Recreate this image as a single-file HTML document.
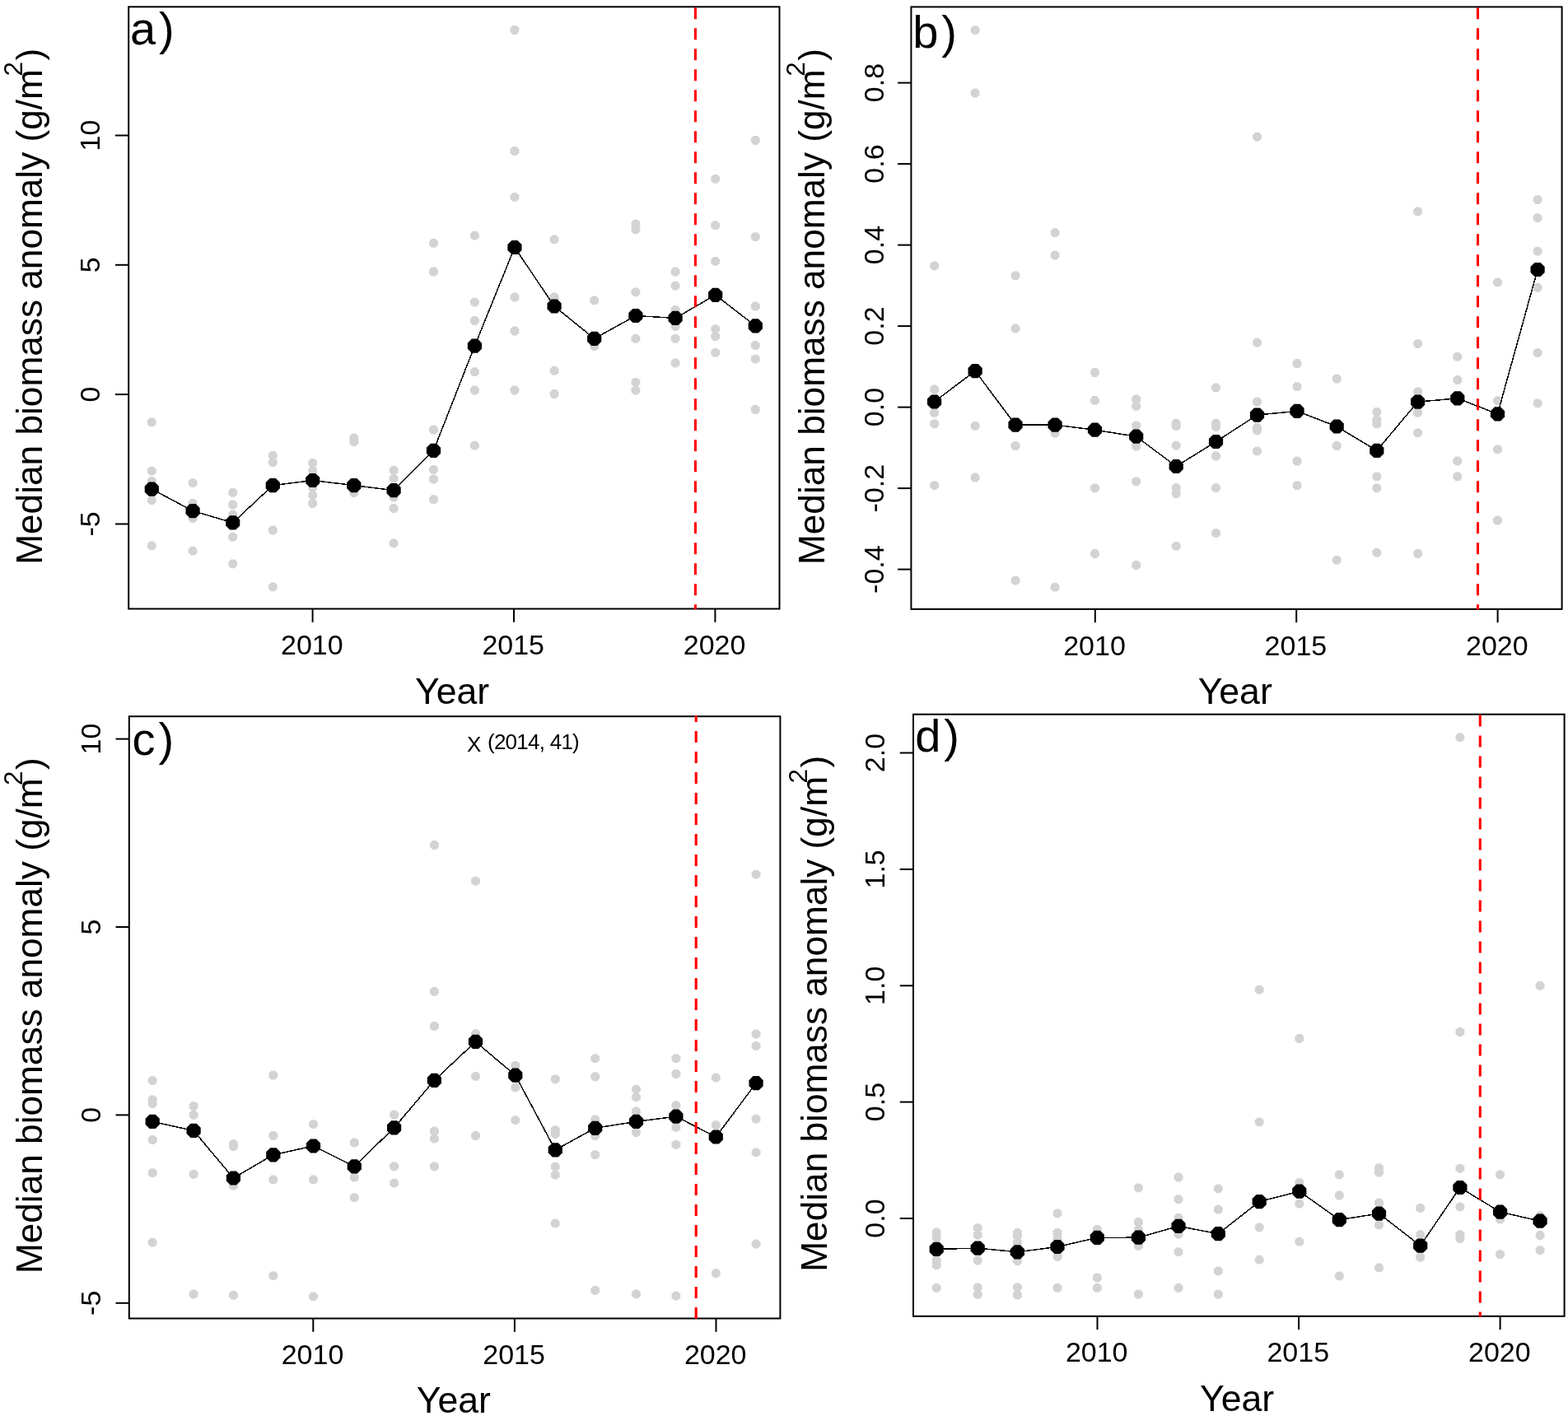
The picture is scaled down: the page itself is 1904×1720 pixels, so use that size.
<!DOCTYPE html>
<html><head><meta charset="utf-8"><title>Median biomass anomaly</title>
<style>
html,body{margin:0;padding:0;background:#fff;}
svg{display:block;}
text{font-family:"Liberation Sans", Arial, Helvetica, sans-serif;fill:#000;}
</style></head><body>
<svg width="1904" height="1720" viewBox="0 0 1904 1720">
<rect x="0" y="0" width="1904" height="1720" fill="#fff"/>
<g id="panel-a">
<g fill="#d3d3d3">
<polygon points="189.70,515.14 186.54,518.30 182.06,518.30 178.90,515.14 178.90,510.66 182.06,507.50 186.54,507.50 189.70,510.66"/>
<polygon points="189.70,574.44 186.54,577.60 182.06,577.60 178.90,574.44 178.90,569.96 182.06,566.80 186.54,566.80 189.70,569.96"/>
<polygon points="189.70,586.54 186.54,589.70 182.06,589.70 178.90,586.54 178.90,582.06 182.06,578.90 186.54,578.90 189.70,582.06"/>
<polygon points="189.70,609.94 186.54,613.10 182.06,613.10 178.90,609.94 178.90,605.46 182.06,602.30 186.54,602.30 189.70,605.46"/>
<polygon points="189.70,665.14 186.54,668.30 182.06,668.30 178.90,665.14 178.90,660.66 182.06,657.50 186.54,657.50 189.70,660.66"/>
<polygon points="239.50,588.84 236.34,592.00 231.86,592.00 228.70,588.84 228.70,584.36 231.86,581.20 236.34,581.20 239.50,584.36"/>
<polygon points="239.50,613.74 236.34,616.90 231.86,616.90 228.70,613.74 228.70,609.26 231.86,606.10 236.34,606.10 239.50,609.26"/>
<polygon points="239.50,631.84 236.34,635.00 231.86,635.00 228.70,631.84 228.70,627.36 231.86,624.20 236.34,624.20 239.50,627.36"/>
<polygon points="239.50,671.44 236.34,674.60 231.86,674.60 228.70,671.44 228.70,666.96 231.86,663.80 236.34,663.80 239.50,666.96"/>
<polygon points="288.10,600.54 284.94,603.70 280.46,603.70 277.30,600.54 277.30,596.06 280.46,592.90 284.94,592.90 288.10,596.06"/>
<polygon points="288.10,615.24 284.94,618.40 280.46,618.40 277.30,615.24 277.30,610.76 280.46,607.60 284.94,607.60 288.10,610.76"/>
<polygon points="288.10,627.34 284.94,630.50 280.46,630.50 277.30,627.34 277.30,622.86 280.46,619.70 284.94,619.70 288.10,622.86"/>
<polygon points="288.10,654.54 284.94,657.70 280.46,657.70 277.30,654.54 277.30,650.06 280.46,646.90 284.94,646.90 288.10,650.06"/>
<polygon points="288.10,687.04 284.94,690.20 280.46,690.20 277.30,687.04 277.30,682.56 280.46,679.40 284.94,679.40 288.10,682.56"/>
<polygon points="336.70,555.54 333.54,558.70 329.06,558.70 325.90,555.54 325.90,551.06 329.06,547.90 333.54,547.90 336.70,551.06"/>
<polygon points="336.70,563.84 333.54,567.00 329.06,567.00 325.90,563.84 325.90,559.36 329.06,556.20 333.54,556.20 336.70,559.36"/>
<polygon points="336.70,646.24 333.54,649.40 329.06,649.40 325.90,646.24 325.90,641.76 329.06,638.60 333.54,638.60 336.70,641.76"/>
<polygon points="336.70,715.04 333.54,718.20 329.06,718.20 325.90,715.04 325.90,710.56 329.06,707.40 333.54,707.40 336.70,710.56"/>
<polygon points="385.10,564.64 381.94,567.80 377.46,567.80 374.30,564.64 374.30,560.16 377.46,557.00 381.94,557.00 385.10,560.16"/>
<polygon points="385.10,573.64 381.94,576.80 377.46,576.80 374.30,573.64 374.30,569.16 377.46,566.00 381.94,566.00 385.10,569.16"/>
<polygon points="385.10,594.24 381.94,597.40 377.46,597.40 374.30,594.24 374.30,589.76 377.46,586.60 381.94,586.60 385.10,589.76"/>
<polygon points="385.10,603.94 381.94,607.10 377.46,607.10 374.30,603.94 374.30,599.46 377.46,596.30 381.94,596.30 385.10,599.46"/>
<polygon points="385.10,613.74 381.94,616.90 377.46,616.90 374.30,613.74 374.30,609.26 377.46,606.10 381.94,606.10 385.10,609.26"/>
<polygon points="435.20,534.34 432.04,537.50 427.56,537.50 424.40,534.34 424.40,529.86 427.56,526.70 432.04,526.70 435.20,529.86"/>
<polygon points="435.20,538.94 432.04,542.10 427.56,542.10 424.40,538.94 424.40,534.46 427.56,531.30 432.04,531.30 435.20,534.46"/>
<polygon points="435.20,600.84 432.04,604.00 427.56,604.00 424.40,600.84 424.40,596.36 427.56,593.20 432.04,593.20 435.20,596.36"/>
<polygon points="483.50,573.64 480.34,576.80 475.86,576.80 472.70,573.64 472.70,569.16 475.86,566.00 480.34,566.00 483.50,569.16"/>
<polygon points="483.50,583.54 480.34,586.70 475.86,586.70 472.70,583.54 472.70,579.06 475.86,575.90 480.34,575.90 483.50,579.06"/>
<polygon points="483.50,606.24 480.34,609.40 475.86,609.40 472.70,606.24 472.70,601.76 475.86,598.60 480.34,598.60 483.50,601.76"/>
<polygon points="483.50,619.74 480.34,622.90 475.86,622.90 472.70,619.74 472.70,615.26 475.86,612.10 480.34,612.10 483.50,615.26"/>
<polygon points="483.50,662.14 480.34,665.30 475.86,665.30 472.70,662.14 472.70,657.66 475.86,654.50 480.34,654.50 483.50,657.66"/>
<polygon points="531.90,297.64 528.74,300.80 524.26,300.80 521.10,297.64 521.10,293.16 524.26,290.00 528.74,290.00 531.90,293.16"/>
<polygon points="531.90,332.24 528.74,335.40 524.26,335.40 521.10,332.24 521.10,327.76 524.26,324.60 528.74,324.60 531.90,327.76"/>
<polygon points="531.90,524.24 528.74,527.40 524.26,527.40 521.10,524.24 521.10,519.76 524.26,516.60 528.74,516.60 531.90,519.76"/>
<polygon points="531.90,572.64 528.74,575.80 524.26,575.80 521.10,572.64 521.10,568.16 524.26,565.00 528.74,565.00 531.90,568.16"/>
<polygon points="531.90,584.24 528.74,587.40 524.26,587.40 521.10,584.24 521.10,579.76 524.26,576.60 528.74,576.60 531.90,579.76"/>
<polygon points="531.90,608.94 528.74,612.10 524.26,612.10 521.10,608.94 521.10,604.46 524.26,601.30 528.74,601.30 531.90,604.46"/>
<polygon points="581.80,288.44 578.64,291.60 574.16,291.60 571.00,288.44 571.00,283.96 574.16,280.80 578.64,280.80 581.80,283.96"/>
<polygon points="581.80,369.34 578.64,372.50 574.16,372.50 571.00,369.34 571.00,364.86 574.16,361.70 578.64,361.70 581.80,364.86"/>
<polygon points="581.80,391.74 578.64,394.90 574.16,394.90 571.00,391.74 571.00,387.26 574.16,384.10 578.64,384.10 581.80,387.26"/>
<polygon points="581.80,453.94 578.64,457.10 574.16,457.10 571.00,453.94 571.00,449.46 574.16,446.30 578.64,446.30 581.80,449.46"/>
<polygon points="581.80,476.24 578.64,479.40 574.16,479.40 571.00,476.24 571.00,471.76 574.16,468.60 578.64,468.60 581.80,471.76"/>
<polygon points="581.80,543.44 578.64,546.60 574.16,546.60 571.00,543.44 571.00,538.96 574.16,535.80 578.64,535.80 581.80,538.96"/>
<polygon points="630.35,38.74 627.19,41.90 622.71,41.90 619.55,38.74 619.55,34.26 622.71,31.10 627.19,31.10 630.35,34.26"/>
<polygon points="630.35,185.74 627.19,188.90 622.71,188.90 619.55,185.74 619.55,181.26 622.71,178.10 627.19,178.10 630.35,181.26"/>
<polygon points="630.35,241.64 627.19,244.80 622.71,244.80 619.55,241.64 619.55,237.16 622.71,234.00 627.19,234.00 630.35,237.16"/>
<polygon points="630.35,363.24 627.19,366.40 622.71,366.40 619.55,363.24 619.55,358.76 622.71,355.60 627.19,355.60 630.35,358.76"/>
<polygon points="630.35,404.24 627.19,407.40 622.71,407.40 619.55,404.24 619.55,399.76 622.71,396.60 627.19,396.60 630.35,399.76"/>
<polygon points="630.35,476.24 627.19,479.40 622.71,479.40 619.55,476.24 619.55,471.76 622.71,468.60 627.19,468.60 630.35,471.76"/>
<polygon points="678.50,293.14 675.34,296.30 670.86,296.30 667.70,293.14 667.70,288.66 670.86,285.50 675.34,285.50 678.50,288.66"/>
<polygon points="678.50,363.24 675.34,366.40 670.86,366.40 667.70,363.24 667.70,358.76 670.86,355.60 675.34,355.60 678.50,358.76"/>
<polygon points="678.50,452.64 675.34,455.80 670.86,455.80 667.70,452.64 667.70,448.16 670.86,445.00 675.34,445.00 678.50,448.16"/>
<polygon points="678.50,480.74 675.34,483.90 670.86,483.90 667.70,480.74 667.70,476.26 670.86,473.10 675.34,473.10 678.50,476.26"/>
<polygon points="727.10,367.14 723.94,370.30 719.46,370.30 716.30,367.14 716.30,362.66 719.46,359.50 723.94,359.50 727.10,362.66"/>
<polygon points="727.10,422.84 723.94,426.00 719.46,426.00 716.30,422.84 716.30,418.36 719.46,415.20 723.94,415.20 727.10,418.36"/>
<polygon points="777.30,274.34 774.14,277.50 769.66,277.50 766.50,274.34 766.50,269.86 769.66,266.70 774.14,266.70 777.30,269.86"/>
<polygon points="777.30,281.04 774.14,284.20 769.66,284.20 766.50,281.04 766.50,276.56 769.66,273.40 774.14,273.40 777.30,276.56"/>
<polygon points="777.30,357.04 774.14,360.20 769.66,360.20 766.50,357.04 766.50,352.56 769.66,349.40 774.14,349.40 777.30,352.56"/>
<polygon points="777.30,413.54 774.14,416.70 769.66,416.70 766.50,413.54 766.50,409.06 769.66,405.90 774.14,405.90 777.30,409.06"/>
<polygon points="777.30,466.54 774.14,469.70 769.66,469.70 766.50,466.54 766.50,462.06 769.66,458.90 774.14,458.90 777.30,462.06"/>
<polygon points="777.30,476.34 774.14,479.50 769.66,479.50 766.50,476.34 766.50,471.86 769.66,468.70 774.14,468.70 777.30,471.86"/>
<polygon points="825.50,332.24 822.34,335.40 817.86,335.40 814.70,332.24 814.70,327.76 817.86,324.60 822.34,324.60 825.50,327.76"/>
<polygon points="825.50,349.44 822.34,352.60 817.86,352.60 814.70,349.44 814.70,344.96 817.86,341.80 822.34,341.80 825.50,344.96"/>
<polygon points="825.50,378.64 822.34,381.80 817.86,381.80 814.70,378.64 814.70,374.16 817.86,371.00 822.34,371.00 825.50,374.16"/>
<polygon points="825.50,398.54 822.34,401.70 817.86,401.70 814.70,398.54 814.70,394.06 817.86,390.90 822.34,390.90 825.50,394.06"/>
<polygon points="825.50,413.54 822.34,416.70 817.86,416.70 814.70,413.54 814.70,409.06 817.86,405.90 822.34,405.90 825.50,409.06"/>
<polygon points="825.50,443.14 822.34,446.30 817.86,446.30 814.70,443.14 814.70,438.66 817.86,435.50 822.34,435.50 825.50,438.66"/>
<polygon points="874.10,219.54 870.94,222.70 866.46,222.70 863.30,219.54 863.30,215.06 866.46,211.90 870.94,211.90 874.10,215.06"/>
<polygon points="874.10,275.94 870.94,279.10 866.46,279.10 863.30,275.94 863.30,271.46 866.46,268.30 870.94,268.30 874.10,271.46"/>
<polygon points="874.10,319.64 870.94,322.80 866.46,322.80 863.30,319.64 863.30,315.16 866.46,312.00 870.94,312.00 874.10,315.16"/>
<polygon points="874.10,401.84 870.94,405.00 866.46,405.00 863.30,401.84 863.30,397.36 866.46,394.20 870.94,394.20 874.10,397.36"/>
<polygon points="874.10,410.74 870.94,413.90 866.46,413.90 863.30,410.74 863.30,406.26 866.46,403.10 870.94,403.10 874.10,406.26"/>
<polygon points="874.10,430.54 870.94,433.70 866.46,433.70 863.30,430.54 863.30,426.06 866.46,422.90 870.94,422.90 874.10,426.06"/>
<polygon points="922.70,172.74 919.54,175.90 915.06,175.90 911.90,172.74 911.90,168.26 915.06,165.10 919.54,165.10 922.70,168.26"/>
<polygon points="922.70,289.84 919.54,293.00 915.06,293.00 911.90,289.84 911.90,285.36 915.06,282.20 919.54,282.20 922.70,285.36"/>
<polygon points="922.70,374.24 919.54,377.40 915.06,377.40 911.90,374.24 911.90,369.76 915.06,366.60 919.54,366.60 922.70,369.76"/>
<polygon points="922.70,421.74 919.54,424.90 915.06,424.90 911.90,421.74 911.90,417.26 915.06,414.10 919.54,414.10 922.70,417.26"/>
<polygon points="922.70,438.34 919.54,441.50 915.06,441.50 911.90,438.34 911.90,433.86 915.06,430.70 919.54,430.70 922.70,433.86"/>
<polygon points="922.70,499.74 919.54,502.90 915.06,502.90 911.90,499.74 911.90,495.26 915.06,492.10 919.54,492.10 922.70,495.26"/>
</g>
<polyline points="184.3,594.1 234.1,620.6 282.7,634.9 331.3,589.6 379.7,583.5 429.8,589.6 478.1,595.6 526.5,547.3 576.4,420.2 624.95,300.5 673.1,372 721.7,411.3 771.9,383.5 820.1,386.4 868.7,358.3 917.3,395.9" fill="none" stroke="#000" stroke-width="1.5" stroke-linejoin="round" shape-rendering="crispEdges"/>
<g fill="#000">
<polygon points="192.90,597.66 187.86,602.70 180.74,602.70 175.70,597.66 175.70,590.54 180.74,585.50 187.86,585.50 192.90,590.54"/>
<polygon points="242.70,624.16 237.66,629.20 230.54,629.20 225.50,624.16 225.50,617.04 230.54,612.00 237.66,612.00 242.70,617.04"/>
<polygon points="291.30,638.46 286.26,643.50 279.14,643.50 274.10,638.46 274.10,631.34 279.14,626.30 286.26,626.30 291.30,631.34"/>
<polygon points="339.90,593.16 334.86,598.20 327.74,598.20 322.70,593.16 322.70,586.04 327.74,581.00 334.86,581.00 339.90,586.04"/>
<polygon points="388.30,587.06 383.26,592.10 376.14,592.10 371.10,587.06 371.10,579.94 376.14,574.90 383.26,574.90 388.30,579.94"/>
<polygon points="438.40,593.16 433.36,598.20 426.24,598.20 421.20,593.16 421.20,586.04 426.24,581.00 433.36,581.00 438.40,586.04"/>
<polygon points="486.70,599.16 481.66,604.20 474.54,604.20 469.50,599.16 469.50,592.04 474.54,587.00 481.66,587.00 486.70,592.04"/>
<polygon points="535.10,550.86 530.06,555.90 522.94,555.90 517.90,550.86 517.90,543.74 522.94,538.70 530.06,538.70 535.10,543.74"/>
<polygon points="585.00,423.76 579.96,428.80 572.84,428.80 567.80,423.76 567.80,416.64 572.84,411.60 579.96,411.60 585.00,416.64"/>
<polygon points="633.55,304.06 628.51,309.10 621.39,309.10 616.35,304.06 616.35,296.94 621.39,291.90 628.51,291.90 633.55,296.94"/>
<polygon points="681.70,375.56 676.66,380.60 669.54,380.60 664.50,375.56 664.50,368.44 669.54,363.40 676.66,363.40 681.70,368.44"/>
<polygon points="730.30,414.86 725.26,419.90 718.14,419.90 713.10,414.86 713.10,407.74 718.14,402.70 725.26,402.70 730.30,407.74"/>
<polygon points="780.50,387.06 775.46,392.10 768.34,392.10 763.30,387.06 763.30,379.94 768.34,374.90 775.46,374.90 780.50,379.94"/>
<polygon points="828.70,389.96 823.66,395.00 816.54,395.00 811.50,389.96 811.50,382.84 816.54,377.80 823.66,377.80 828.70,382.84"/>
<polygon points="877.30,361.86 872.26,366.90 865.14,366.90 860.10,361.86 860.10,354.74 865.14,349.70 872.26,349.70 877.30,354.74"/>
<polygon points="925.90,399.46 920.86,404.50 913.74,404.50 908.70,399.46 908.70,392.34 913.74,387.30 920.86,387.30 925.90,392.34"/>
</g>
<rect x="156.2" y="8.3" width="790.3" height="731.2" fill="none" stroke="#000" stroke-width="2"/>
<line x1="379.6" y1="739.5" x2="379.6" y2="755.8" stroke="#000" stroke-width="2"/>
<text x="378.8" y="794.9" font-size="34" text-anchor="middle">2010</text>
<line x1="624" y1="739.5" x2="624" y2="755.8" stroke="#000" stroke-width="2"/>
<text x="623.2" y="794.9" font-size="34" text-anchor="middle">2015</text>
<line x1="868.4" y1="739.5" x2="868.4" y2="755.8" stroke="#000" stroke-width="2"/>
<text x="867.6" y="794.9" font-size="34" text-anchor="middle">2020</text>
<line x1="139.9" y1="164.5" x2="156.2" y2="164.5" stroke="#000" stroke-width="2"/>
<text transform="translate(121.4 164.5) rotate(-90)" font-size="34" text-anchor="middle">10</text>
<line x1="139.9" y1="321.8" x2="156.2" y2="321.8" stroke="#000" stroke-width="2"/>
<text transform="translate(121.4 321.8) rotate(-90)" font-size="34" text-anchor="middle">5</text>
<line x1="139.9" y1="479.1" x2="156.2" y2="479.1" stroke="#000" stroke-width="2"/>
<text transform="translate(121.4 479.1) rotate(-90)" font-size="34" text-anchor="middle">0</text>
<line x1="139.9" y1="636.5" x2="156.2" y2="636.5" stroke="#000" stroke-width="2"/>
<text transform="translate(121.4 636.5) rotate(-90)" font-size="34" text-anchor="middle">-5</text>
<text x="158" y="54.2" font-size="56">a<tspan dx="3.8">)</tspan></text>
<text x="549.15" y="854.5" font-size="44.6" text-anchor="middle">Year</text>
<text transform="translate(50.7 372.3) rotate(-90)" font-size="44.2" text-anchor="middle">Median biomass anomaly (g/m<tspan dx="-8.5" dy="-23.9" font-size="31.5">2</tspan><tspan dx="1.5" dy="23.9">)</tspan></text>
<line x1="844.4" y1="9.2" x2="844.4" y2="740.3" stroke="#ff0000" stroke-width="3.1" stroke-dasharray="14 11"/>
</g>
<g id="panel-b">
<g fill="#d3d3d3">
<polygon points="1140.00,325.04 1136.84,328.20 1132.36,328.20 1129.20,325.04 1129.20,320.56 1132.36,317.40 1136.84,317.40 1140.00,320.56"/>
<polygon points="1140.00,475.24 1136.84,478.40 1132.36,478.40 1129.20,475.24 1129.20,470.76 1132.36,467.60 1136.84,467.60 1140.00,470.76"/>
<polygon points="1140.00,503.64 1136.84,506.80 1132.36,506.80 1129.20,503.64 1129.20,499.16 1132.36,496.00 1136.84,496.00 1140.00,499.16"/>
<polygon points="1140.00,517.04 1136.84,520.20 1132.36,520.20 1129.20,517.04 1129.20,512.56 1132.36,509.40 1136.84,509.40 1140.00,512.56"/>
<polygon points="1140.00,591.84 1136.84,595.00 1132.36,595.00 1129.20,591.84 1129.20,587.36 1132.36,584.20 1136.84,584.20 1140.00,587.36"/>
<polygon points="1189.50,38.84 1186.34,42.00 1181.86,42.00 1178.70,38.84 1178.70,34.36 1181.86,31.20 1186.34,31.20 1189.50,34.36"/>
<polygon points="1189.50,115.24 1186.34,118.40 1181.86,118.40 1178.70,115.24 1178.70,110.76 1181.86,107.60 1186.34,107.60 1189.50,110.76"/>
<polygon points="1189.50,519.64 1186.34,522.80 1181.86,522.80 1178.70,519.64 1178.70,515.16 1181.86,512.00 1186.34,512.00 1189.50,515.16"/>
<polygon points="1189.50,582.24 1186.34,585.40 1181.86,585.40 1178.70,582.24 1178.70,577.76 1181.86,574.60 1186.34,574.60 1189.50,577.76"/>
<polygon points="1238.40,337.04 1235.24,340.20 1230.76,340.20 1227.60,337.04 1227.60,332.56 1230.76,329.40 1235.24,329.40 1238.40,332.56"/>
<polygon points="1238.40,401.24 1235.24,404.40 1230.76,404.40 1227.60,401.24 1227.60,396.76 1230.76,393.60 1235.24,393.60 1238.40,396.76"/>
<polygon points="1238.40,543.74 1235.24,546.90 1230.76,546.90 1227.60,543.74 1227.60,539.26 1230.76,536.10 1235.24,536.10 1238.40,539.26"/>
<polygon points="1238.40,707.34 1235.24,710.50 1230.76,710.50 1227.60,707.34 1227.60,702.86 1230.76,699.70 1235.24,699.70 1238.40,702.86"/>
<polygon points="1286.50,284.94 1283.34,288.10 1278.86,288.10 1275.70,284.94 1275.70,280.46 1278.86,277.30 1283.34,277.30 1286.50,280.46"/>
<polygon points="1286.50,312.24 1283.34,315.40 1278.86,315.40 1275.70,312.24 1275.70,307.76 1278.86,304.60 1283.34,304.60 1286.50,307.76"/>
<polygon points="1286.50,528.24 1283.34,531.40 1278.86,531.40 1275.70,528.24 1275.70,523.76 1278.86,520.60 1283.34,520.60 1286.50,523.76"/>
<polygon points="1286.50,715.44 1283.34,718.60 1278.86,718.60 1275.70,715.44 1275.70,710.96 1278.86,707.80 1283.34,707.80 1286.50,710.96"/>
<polygon points="1334.90,454.74 1331.74,457.90 1327.26,457.90 1324.10,454.74 1324.10,450.26 1327.26,447.10 1331.74,447.10 1334.90,450.26"/>
<polygon points="1334.90,488.64 1331.74,491.80 1327.26,491.80 1324.10,488.64 1324.10,484.16 1327.26,481.00 1331.74,481.00 1334.90,484.16"/>
<polygon points="1334.90,595.04 1331.74,598.20 1327.26,598.20 1324.10,595.04 1324.10,590.56 1327.26,587.40 1331.74,587.40 1334.90,590.56"/>
<polygon points="1334.90,674.74 1331.74,677.90 1327.26,677.90 1324.10,674.74 1324.10,670.26 1327.26,667.10 1331.74,667.10 1334.90,670.26"/>
<polygon points="1385.10,487.14 1381.94,490.30 1377.46,490.30 1374.30,487.14 1374.30,482.66 1377.46,479.50 1381.94,479.50 1385.10,482.66"/>
<polygon points="1385.10,495.54 1381.94,498.70 1377.46,498.70 1374.30,495.54 1374.30,491.06 1377.46,487.90 1381.94,487.90 1385.10,491.06"/>
<polygon points="1385.10,519.04 1381.94,522.20 1377.46,522.20 1374.30,519.04 1374.30,514.56 1377.46,511.40 1381.94,511.40 1385.10,514.56"/>
<polygon points="1385.10,544.34 1381.94,547.50 1377.46,547.50 1374.30,544.34 1374.30,539.86 1377.46,536.70 1381.94,536.70 1385.10,539.86"/>
<polygon points="1385.10,587.04 1381.94,590.20 1377.46,590.20 1374.30,587.04 1374.30,582.56 1377.46,579.40 1381.94,579.40 1385.10,582.56"/>
<polygon points="1385.10,688.74 1381.94,691.90 1377.46,691.90 1374.30,688.74 1374.30,684.26 1377.46,681.10 1381.94,681.10 1385.10,684.26"/>
<polygon points="1433.60,516.44 1430.44,519.60 1425.96,519.60 1422.80,516.44 1422.80,511.96 1425.96,508.80 1430.44,508.80 1433.60,511.96"/>
<polygon points="1433.60,519.94 1430.44,523.10 1425.96,523.10 1422.80,519.94 1422.80,515.46 1425.96,512.30 1430.44,512.30 1433.60,515.46"/>
<polygon points="1433.60,543.44 1430.44,546.60 1425.96,546.60 1422.80,543.44 1422.80,538.96 1425.96,535.80 1430.44,535.80 1433.60,538.96"/>
<polygon points="1433.60,594.94 1430.44,598.10 1425.96,598.10 1422.80,594.94 1422.80,590.46 1425.96,587.30 1430.44,587.30 1433.60,590.46"/>
<polygon points="1433.60,601.94 1430.44,605.10 1425.96,605.10 1422.80,601.94 1422.80,597.46 1425.96,594.30 1430.44,594.30 1433.60,597.46"/>
<polygon points="1433.60,665.64 1430.44,668.80 1425.96,668.80 1422.80,665.64 1422.80,661.16 1425.96,658.00 1430.44,658.00 1433.60,661.16"/>
<polygon points="1481.90,473.14 1478.74,476.30 1474.26,476.30 1471.10,473.14 1471.10,468.66 1474.26,465.50 1478.74,465.50 1481.90,468.66"/>
<polygon points="1481.90,516.44 1478.74,519.60 1474.26,519.60 1471.10,516.44 1471.10,511.96 1474.26,508.80 1478.74,508.80 1481.90,511.96"/>
<polygon points="1481.90,520.84 1478.74,524.00 1474.26,524.00 1471.10,520.84 1471.10,516.36 1474.26,513.20 1478.74,513.20 1481.90,516.36"/>
<polygon points="1481.90,556.24 1478.74,559.40 1474.26,559.40 1471.10,556.24 1471.10,551.76 1474.26,548.60 1478.74,548.60 1481.90,551.76"/>
<polygon points="1481.90,594.94 1478.74,598.10 1474.26,598.10 1471.10,594.94 1471.10,590.46 1474.26,587.30 1478.74,587.30 1481.90,590.46"/>
<polygon points="1481.90,649.94 1478.74,653.10 1474.26,653.10 1471.10,649.94 1471.10,645.46 1474.26,642.30 1478.74,642.30 1481.90,645.46"/>
<polygon points="1531.90,168.44 1528.74,171.60 1524.26,171.60 1521.10,168.44 1521.10,163.96 1524.26,160.80 1528.74,160.80 1531.90,163.96"/>
<polygon points="1531.90,418.44 1528.74,421.60 1524.26,421.60 1521.10,418.44 1521.10,413.96 1524.26,410.80 1528.74,410.80 1531.90,413.96"/>
<polygon points="1531.90,490.24 1528.74,493.40 1524.26,493.40 1521.10,490.24 1521.10,485.76 1524.26,482.60 1528.74,482.60 1531.90,485.76"/>
<polygon points="1531.90,521.64 1528.74,524.80 1524.26,524.80 1521.10,521.64 1521.10,517.16 1524.26,514.00 1528.74,514.00 1531.90,517.16"/>
<polygon points="1531.90,525.14 1528.74,528.30 1524.26,528.30 1521.10,525.14 1521.10,520.66 1524.26,517.50 1528.74,517.50 1531.90,520.66"/>
<polygon points="1531.90,550.14 1528.74,553.30 1524.26,553.30 1521.10,550.14 1521.10,545.66 1524.26,542.50 1528.74,542.50 1531.90,545.66"/>
<polygon points="1580.40,443.74 1577.24,446.90 1572.76,446.90 1569.60,443.74 1569.60,439.26 1572.76,436.10 1577.24,436.10 1580.40,439.26"/>
<polygon points="1580.40,471.94 1577.24,475.10 1572.76,475.10 1569.60,471.94 1569.60,467.46 1572.76,464.30 1577.24,464.30 1580.40,467.46"/>
<polygon points="1580.40,562.34 1577.24,565.50 1572.76,565.50 1569.60,562.34 1569.60,557.86 1572.76,554.70 1577.24,554.70 1580.40,557.86"/>
<polygon points="1580.40,591.84 1577.24,595.00 1572.76,595.00 1569.60,591.84 1569.60,587.36 1572.76,584.20 1577.24,584.20 1580.40,587.36"/>
<polygon points="1628.60,462.34 1625.44,465.50 1620.96,465.50 1617.80,462.34 1617.80,457.86 1620.96,454.70 1625.44,454.70 1628.60,457.86"/>
<polygon points="1628.60,543.74 1625.44,546.90 1620.96,546.90 1617.80,543.74 1617.80,539.26 1620.96,536.10 1625.44,536.10 1628.60,539.26"/>
<polygon points="1628.60,682.54 1625.44,685.70 1620.96,685.70 1617.80,682.54 1617.80,678.06 1620.96,674.90 1625.44,674.90 1628.60,678.06"/>
<polygon points="1677.20,502.54 1674.04,505.70 1669.56,505.70 1666.40,502.54 1666.40,498.06 1669.56,494.90 1674.04,494.90 1677.20,498.06"/>
<polygon points="1677.20,511.94 1674.04,515.10 1669.56,515.10 1666.40,511.94 1666.40,507.46 1669.56,504.30 1674.04,504.30 1677.20,507.46"/>
<polygon points="1677.20,517.14 1674.04,520.30 1669.56,520.30 1666.40,517.14 1666.40,512.66 1669.56,509.50 1674.04,509.50 1677.20,512.66"/>
<polygon points="1677.20,581.04 1674.04,584.20 1669.56,584.20 1666.40,581.04 1666.40,576.56 1669.56,573.40 1674.04,573.40 1677.20,576.56"/>
<polygon points="1677.20,595.04 1674.04,598.20 1669.56,598.20 1666.40,595.04 1666.40,590.56 1669.56,587.40 1674.04,587.40 1677.20,590.56"/>
<polygon points="1677.20,673.54 1674.04,676.70 1669.56,676.70 1666.40,673.54 1666.40,669.06 1669.56,665.90 1674.04,665.90 1677.20,669.06"/>
<polygon points="1727.00,259.14 1723.84,262.30 1719.36,262.30 1716.20,259.14 1716.20,254.66 1719.36,251.50 1723.84,251.50 1727.00,254.66"/>
<polygon points="1727.00,419.84 1723.84,423.00 1719.36,423.00 1716.20,419.84 1716.20,415.36 1719.36,412.20 1723.84,412.20 1727.00,415.36"/>
<polygon points="1727.00,478.04 1723.84,481.20 1719.36,481.20 1716.20,478.04 1716.20,473.56 1719.36,470.40 1723.84,470.40 1727.00,473.56"/>
<polygon points="1727.00,503.54 1723.84,506.70 1719.36,506.70 1716.20,503.54 1716.20,499.06 1719.36,495.90 1723.84,495.90 1727.00,499.06"/>
<polygon points="1727.00,528.04 1723.84,531.20 1719.36,531.20 1716.20,528.04 1716.20,523.56 1719.36,520.40 1723.84,520.40 1727.00,523.56"/>
<polygon points="1727.00,674.74 1723.84,677.90 1719.36,677.90 1716.20,674.74 1716.20,670.26 1719.36,667.10 1723.84,667.10 1727.00,670.26"/>
<polygon points="1775.20,435.54 1772.04,438.70 1767.56,438.70 1764.40,435.54 1764.40,431.06 1767.56,427.90 1772.04,427.90 1775.20,431.06"/>
<polygon points="1775.20,463.74 1772.04,466.90 1767.56,466.90 1764.40,463.74 1764.40,459.26 1767.56,456.10 1772.04,456.10 1775.20,459.26"/>
<polygon points="1775.20,562.14 1772.04,565.30 1767.56,565.30 1764.40,562.14 1764.40,557.66 1767.56,554.50 1772.04,554.50 1775.20,557.66"/>
<polygon points="1775.20,581.04 1772.04,584.20 1767.56,584.20 1764.40,581.04 1764.40,576.56 1767.56,573.40 1772.04,573.40 1775.20,576.56"/>
<polygon points="1823.90,345.14 1820.74,348.30 1816.26,348.30 1813.10,345.14 1813.10,340.66 1816.26,337.50 1820.74,337.50 1823.90,340.66"/>
<polygon points="1823.90,488.84 1820.74,492.00 1816.26,492.00 1813.10,488.84 1813.10,484.36 1816.26,481.20 1820.74,481.20 1823.90,484.36"/>
<polygon points="1823.90,548.14 1820.74,551.30 1816.26,551.30 1813.10,548.14 1813.10,543.66 1816.26,540.50 1820.74,540.50 1823.90,543.66"/>
<polygon points="1823.90,634.34 1820.74,637.50 1816.26,637.50 1813.10,634.34 1813.10,629.86 1816.26,626.70 1820.74,626.70 1823.90,629.86"/>
<polygon points="1872.50,244.84 1869.34,248.00 1864.86,248.00 1861.70,244.84 1861.70,240.36 1864.86,237.20 1869.34,237.20 1872.50,240.36"/>
<polygon points="1872.50,266.94 1869.34,270.10 1864.86,270.10 1861.70,266.94 1861.70,262.46 1864.86,259.30 1869.34,259.30 1872.50,262.46"/>
<polygon points="1872.50,307.44 1869.34,310.60 1864.86,310.60 1861.70,307.44 1861.70,302.96 1864.86,299.80 1869.34,299.80 1872.50,302.96"/>
<polygon points="1872.50,351.54 1869.34,354.70 1864.86,354.70 1861.70,351.54 1861.70,347.06 1864.86,343.90 1869.34,343.90 1872.50,347.06"/>
<polygon points="1872.50,430.94 1869.34,434.10 1864.86,434.10 1861.70,430.94 1861.70,426.46 1864.86,423.30 1869.34,423.30 1872.50,426.46"/>
<polygon points="1872.50,492.04 1869.34,495.20 1864.86,495.20 1861.70,492.04 1861.70,487.56 1864.86,484.40 1869.34,484.40 1872.50,487.56"/>
</g>
<polyline points="1134.6,488 1184.1,450.6 1233,516.1 1281.1,516.1 1329.5,522.2 1379.7,530.2 1428.2,566.5 1476.5,536.5 1526.5,504.1 1575,499.4 1623.2,518 1671.8,547.4 1721.6,488.1 1769.8,483.9 1818.5,502.8 1867.1,327.5" fill="none" stroke="#000" stroke-width="1.5" stroke-linejoin="round" shape-rendering="crispEdges"/>
<g fill="#000">
<polygon points="1143.20,491.56 1138.16,496.60 1131.04,496.60 1126.00,491.56 1126.00,484.44 1131.04,479.40 1138.16,479.40 1143.20,484.44"/>
<polygon points="1192.70,454.16 1187.66,459.20 1180.54,459.20 1175.50,454.16 1175.50,447.04 1180.54,442.00 1187.66,442.00 1192.70,447.04"/>
<polygon points="1241.60,519.66 1236.56,524.70 1229.44,524.70 1224.40,519.66 1224.40,512.54 1229.44,507.50 1236.56,507.50 1241.60,512.54"/>
<polygon points="1289.70,519.66 1284.66,524.70 1277.54,524.70 1272.50,519.66 1272.50,512.54 1277.54,507.50 1284.66,507.50 1289.70,512.54"/>
<polygon points="1338.10,525.76 1333.06,530.80 1325.94,530.80 1320.90,525.76 1320.90,518.64 1325.94,513.60 1333.06,513.60 1338.10,518.64"/>
<polygon points="1388.30,533.76 1383.26,538.80 1376.14,538.80 1371.10,533.76 1371.10,526.64 1376.14,521.60 1383.26,521.60 1388.30,526.64"/>
<polygon points="1436.80,570.06 1431.76,575.10 1424.64,575.10 1419.60,570.06 1419.60,562.94 1424.64,557.90 1431.76,557.90 1436.80,562.94"/>
<polygon points="1485.10,540.06 1480.06,545.10 1472.94,545.10 1467.90,540.06 1467.90,532.94 1472.94,527.90 1480.06,527.90 1485.10,532.94"/>
<polygon points="1535.10,507.66 1530.06,512.70 1522.94,512.70 1517.90,507.66 1517.90,500.54 1522.94,495.50 1530.06,495.50 1535.10,500.54"/>
<polygon points="1583.60,502.96 1578.56,508.00 1571.44,508.00 1566.40,502.96 1566.40,495.84 1571.44,490.80 1578.56,490.80 1583.60,495.84"/>
<polygon points="1631.80,521.56 1626.76,526.60 1619.64,526.60 1614.60,521.56 1614.60,514.44 1619.64,509.40 1626.76,509.40 1631.80,514.44"/>
<polygon points="1680.40,550.96 1675.36,556.00 1668.24,556.00 1663.20,550.96 1663.20,543.84 1668.24,538.80 1675.36,538.80 1680.40,543.84"/>
<polygon points="1730.20,491.66 1725.16,496.70 1718.04,496.70 1713.00,491.66 1713.00,484.54 1718.04,479.50 1725.16,479.50 1730.20,484.54"/>
<polygon points="1778.40,487.46 1773.36,492.50 1766.24,492.50 1761.20,487.46 1761.20,480.34 1766.24,475.30 1773.36,475.30 1778.40,480.34"/>
<polygon points="1827.10,506.36 1822.06,511.40 1814.94,511.40 1809.90,506.36 1809.90,499.24 1814.94,494.20 1822.06,494.20 1827.10,499.24"/>
<polygon points="1875.70,331.06 1870.66,336.10 1863.54,336.10 1858.50,331.06 1858.50,323.94 1863.54,318.90 1870.66,318.90 1875.70,323.94"/>
</g>
<rect x="1106.4" y="8.4" width="790.2" height="731.5" fill="none" stroke="#000" stroke-width="2"/>
<line x1="1329.8" y1="739.9" x2="1329.8" y2="756.2" stroke="#000" stroke-width="2"/>
<text x="1329" y="795.6" font-size="34" text-anchor="middle">2010</text>
<line x1="1574.2" y1="739.9" x2="1574.2" y2="756.2" stroke="#000" stroke-width="2"/>
<text x="1573.4" y="795.6" font-size="34" text-anchor="middle">2015</text>
<line x1="1818.6" y1="739.9" x2="1818.6" y2="756.2" stroke="#000" stroke-width="2"/>
<text x="1817.8" y="795.6" font-size="34" text-anchor="middle">2020</text>
<line x1="1090.1" y1="100.6" x2="1106.4" y2="100.6" stroke="#000" stroke-width="2"/>
<text transform="translate(1072.9 100.6) rotate(-90)" font-size="34" text-anchor="middle">0.8</text>
<line x1="1090.1" y1="199.1" x2="1106.4" y2="199.1" stroke="#000" stroke-width="2"/>
<text transform="translate(1072.9 199.1) rotate(-90)" font-size="34" text-anchor="middle">0.6</text>
<line x1="1090.1" y1="297.6" x2="1106.4" y2="297.6" stroke="#000" stroke-width="2"/>
<text transform="translate(1072.9 297.6) rotate(-90)" font-size="34" text-anchor="middle">0.4</text>
<line x1="1090.1" y1="396.1" x2="1106.4" y2="396.1" stroke="#000" stroke-width="2"/>
<text transform="translate(1072.9 396.1) rotate(-90)" font-size="34" text-anchor="middle">0.2</text>
<line x1="1090.1" y1="494.6" x2="1106.4" y2="494.6" stroke="#000" stroke-width="2"/>
<text transform="translate(1072.9 494.6) rotate(-90)" font-size="34" text-anchor="middle">0.0</text>
<line x1="1090.1" y1="593.1" x2="1106.4" y2="593.1" stroke="#000" stroke-width="2"/>
<text transform="translate(1072.9 593.1) rotate(-90)" font-size="34" text-anchor="middle">-0.2</text>
<line x1="1090.1" y1="691.6" x2="1106.4" y2="691.6" stroke="#000" stroke-width="2"/>
<text transform="translate(1072.9 691.6) rotate(-90)" font-size="34" text-anchor="middle">-0.4</text>
<text x="1108.3" y="57.5" font-size="56">b<tspan dx="3.8">)</tspan></text>
<text x="1499.7" y="854.6" font-size="44.6" text-anchor="middle">Year</text>
<text transform="translate(1000.7 372.55) rotate(-90)" font-size="44.2" text-anchor="middle">Median biomass anomaly (g/m<tspan dx="-8.5" dy="-23.9" font-size="31.5">2</tspan><tspan dx="1.5" dy="23.9">)</tspan></text>
<line x1="1794.5" y1="9.2" x2="1794.5" y2="740.7" stroke="#ff0000" stroke-width="3.1" stroke-dasharray="14 11"/>
</g>
<g id="panel-c">
<g fill="#d3d3d3">
<polygon points="190.60,1314.84 187.44,1318.00 182.96,1318.00 179.80,1314.84 179.80,1310.36 182.96,1307.20 187.44,1307.20 190.60,1310.36"/>
<polygon points="190.60,1338.04 187.44,1341.20 182.96,1341.20 179.80,1338.04 179.80,1333.56 182.96,1330.40 187.44,1330.40 190.60,1333.56"/>
<polygon points="190.60,1342.74 187.44,1345.90 182.96,1345.90 179.80,1342.74 179.80,1338.26 182.96,1335.10 187.44,1335.10 190.60,1338.26"/>
<polygon points="190.60,1386.74 187.44,1389.90 182.96,1389.90 179.80,1386.74 179.80,1382.26 182.96,1379.10 187.44,1379.10 190.60,1382.26"/>
<polygon points="190.60,1426.94 187.44,1430.10 182.96,1430.10 179.80,1426.94 179.80,1422.46 182.96,1419.30 187.44,1419.30 190.60,1422.46"/>
<polygon points="190.60,1511.44 187.44,1514.60 182.96,1514.60 179.80,1511.44 179.80,1506.96 182.96,1503.80 187.44,1503.80 190.60,1506.96"/>
<polygon points="240.50,1345.84 237.34,1349.00 232.86,1349.00 229.70,1345.84 229.70,1341.36 232.86,1338.20 237.34,1338.20 240.50,1341.36"/>
<polygon points="240.50,1356.64 237.34,1359.80 232.86,1359.80 229.70,1356.64 229.70,1352.16 232.86,1349.00 237.34,1349.00 240.50,1352.16"/>
<polygon points="240.50,1428.64 237.34,1431.80 232.86,1431.80 229.70,1428.64 229.70,1424.16 232.86,1421.00 237.34,1421.00 240.50,1424.16"/>
<polygon points="240.50,1574.24 237.34,1577.40 232.86,1577.40 229.70,1574.24 229.70,1569.76 232.86,1566.60 237.34,1566.60 240.50,1569.76"/>
<polygon points="288.80,1391.94 285.64,1395.10 281.16,1395.10 278.00,1391.94 278.00,1387.46 281.16,1384.30 285.64,1384.30 288.80,1387.46"/>
<polygon points="288.80,1394.74 285.64,1397.90 281.16,1397.90 278.00,1394.74 278.00,1390.26 281.16,1387.10 285.64,1387.10 288.80,1390.26"/>
<polygon points="288.80,1442.24 285.64,1445.40 281.16,1445.40 278.00,1442.24 278.00,1437.76 281.16,1434.60 285.64,1434.60 288.80,1437.76"/>
<polygon points="288.80,1575.54 285.64,1578.70 281.16,1578.70 278.00,1575.54 278.00,1571.06 281.16,1567.90 285.64,1567.90 288.80,1571.06"/>
<polygon points="337.20,1308.24 334.04,1311.40 329.56,1311.40 326.40,1308.24 326.40,1303.76 329.56,1300.60 334.04,1300.60 337.20,1303.76"/>
<polygon points="337.20,1381.74 334.04,1384.90 329.56,1384.90 326.40,1381.74 326.40,1377.26 329.56,1374.10 334.04,1374.10 337.20,1377.26"/>
<polygon points="337.20,1435.14 334.04,1438.30 329.56,1438.30 326.40,1435.14 326.40,1430.66 329.56,1427.50 334.04,1427.50 337.20,1430.66"/>
<polygon points="337.20,1551.94 334.04,1555.10 329.56,1555.10 326.40,1551.94 326.40,1547.46 329.56,1544.30 334.04,1544.30 337.20,1547.46"/>
<polygon points="385.90,1367.84 382.74,1371.00 378.26,1371.00 375.10,1367.84 375.10,1363.36 378.26,1360.20 382.74,1360.20 385.90,1363.36"/>
<polygon points="385.90,1435.14 382.74,1438.30 378.26,1438.30 375.10,1435.14 375.10,1430.66 378.26,1427.50 382.74,1427.50 385.90,1430.66"/>
<polygon points="385.90,1577.04 382.74,1580.20 378.26,1580.20 375.10,1577.04 375.10,1572.56 378.26,1569.40 382.74,1569.40 385.90,1572.56"/>
<polygon points="435.70,1390.24 432.54,1393.40 428.06,1393.40 424.90,1390.24 424.90,1385.76 428.06,1382.60 432.54,1382.60 435.70,1385.76"/>
<polygon points="435.70,1432.44 432.54,1435.60 428.06,1435.60 424.90,1432.44 424.90,1427.96 428.06,1424.80 432.54,1424.80 435.70,1427.96"/>
<polygon points="435.70,1456.94 432.54,1460.10 428.06,1460.10 424.90,1456.94 424.90,1452.46 428.06,1449.30 432.54,1449.30 435.70,1452.46"/>
<polygon points="484.00,1356.34 480.84,1359.50 476.36,1359.50 473.20,1356.34 473.20,1351.86 476.36,1348.70 480.84,1348.70 484.00,1351.86"/>
<polygon points="484.00,1419.04 480.84,1422.20 476.36,1422.20 473.20,1419.04 473.20,1414.56 476.36,1411.40 480.84,1411.40 484.00,1414.56"/>
<polygon points="484.00,1439.34 480.84,1442.50 476.36,1442.50 473.20,1439.34 473.20,1434.86 476.36,1431.70 480.84,1431.70 484.00,1434.86"/>
<polygon points="532.80,1028.74 529.64,1031.90 525.16,1031.90 522.00,1028.74 522.00,1024.26 525.16,1021.10 529.64,1021.10 532.80,1024.26"/>
<polygon points="532.80,1206.64 529.64,1209.80 525.16,1209.80 522.00,1206.64 522.00,1202.16 525.16,1199.00 529.64,1199.00 532.80,1202.16"/>
<polygon points="532.80,1248.64 529.64,1251.80 525.16,1251.80 522.00,1248.64 522.00,1244.16 525.16,1241.00 529.64,1241.00 532.80,1244.16"/>
<polygon points="532.80,1376.24 529.64,1379.40 525.16,1379.40 522.00,1376.24 522.00,1371.76 525.16,1368.60 529.64,1368.60 532.80,1371.76"/>
<polygon points="532.80,1385.24 529.64,1388.40 525.16,1388.40 522.00,1385.24 522.00,1380.76 525.16,1377.60 529.64,1377.60 532.80,1380.76"/>
<polygon points="532.80,1419.04 529.64,1422.20 525.16,1422.20 522.00,1419.04 522.00,1414.56 525.16,1411.40 529.64,1411.40 532.80,1414.56"/>
<polygon points="582.90,1072.34 579.74,1075.50 575.26,1075.50 572.10,1072.34 572.10,1067.86 575.26,1064.70 579.74,1064.70 582.90,1067.86"/>
<polygon points="582.90,1257.94 579.74,1261.10 575.26,1261.10 572.10,1257.94 572.10,1253.46 575.26,1250.30 579.74,1250.30 582.90,1253.46"/>
<polygon points="582.90,1309.64 579.74,1312.80 575.26,1312.80 572.10,1309.64 572.10,1305.16 575.26,1302.00 579.74,1302.00 582.90,1305.16"/>
<polygon points="582.90,1381.74 579.74,1384.90 575.26,1384.90 572.10,1381.74 572.10,1377.26 575.26,1374.10 579.74,1374.10 582.90,1377.26"/>
<polygon points="631.20,1296.54 628.04,1299.70 623.56,1299.70 620.40,1296.54 620.40,1292.06 623.56,1288.90 628.04,1288.90 631.20,1292.06"/>
<polygon points="631.20,1323.14 628.04,1326.30 623.56,1326.30 620.40,1323.14 620.40,1318.66 623.56,1315.50 628.04,1315.50 631.20,1318.66"/>
<polygon points="631.20,1362.94 628.04,1366.10 623.56,1366.10 620.40,1362.94 620.40,1358.46 623.56,1355.30 628.04,1355.30 631.20,1358.46"/>
<polygon points="679.70,1313.04 676.54,1316.20 672.06,1316.20 668.90,1313.04 668.90,1308.56 672.06,1305.40 676.54,1305.40 679.70,1308.56"/>
<polygon points="679.70,1374.94 676.54,1378.10 672.06,1378.10 668.90,1374.94 668.90,1370.46 672.06,1367.30 676.54,1367.30 679.70,1370.46"/>
<polygon points="679.70,1379.74 676.54,1382.90 672.06,1382.90 668.90,1379.74 668.90,1375.26 672.06,1372.10 676.54,1372.10 679.70,1375.26"/>
<polygon points="679.70,1419.34 676.54,1422.50 672.06,1422.50 668.90,1419.34 668.90,1414.86 672.06,1411.70 676.54,1411.70 679.70,1414.86"/>
<polygon points="679.70,1429.24 676.54,1432.40 672.06,1432.40 668.90,1429.24 668.90,1424.76 672.06,1421.60 676.54,1421.60 679.70,1424.76"/>
<polygon points="679.70,1488.14 676.54,1491.30 672.06,1491.30 668.90,1488.14 668.90,1483.66 672.06,1480.50 676.54,1480.50 679.70,1483.66"/>
<polygon points="728.10,1287.94 724.94,1291.10 720.46,1291.10 717.30,1287.94 717.30,1283.46 720.46,1280.30 724.94,1280.30 728.10,1283.46"/>
<polygon points="728.10,1310.04 724.94,1313.20 720.46,1313.20 717.30,1310.04 717.30,1305.56 720.46,1302.40 724.94,1302.40 728.10,1305.56"/>
<polygon points="728.10,1362.04 724.94,1365.20 720.46,1365.20 717.30,1362.04 717.30,1357.56 720.46,1354.40 724.94,1354.40 728.10,1357.56"/>
<polygon points="728.10,1381.84 724.94,1385.00 720.46,1385.00 717.30,1381.84 717.30,1377.36 720.46,1374.20 724.94,1374.20 728.10,1377.36"/>
<polygon points="728.10,1404.94 724.94,1408.10 720.46,1408.10 717.30,1404.94 717.30,1400.46 720.46,1397.30 724.94,1397.30 728.10,1400.46"/>
<polygon points="728.10,1569.54 724.94,1572.70 720.46,1572.70 717.30,1569.54 717.30,1565.06 720.46,1561.90 724.94,1561.90 728.10,1565.06"/>
<polygon points="777.90,1325.44 774.74,1328.60 770.26,1328.60 767.10,1325.44 767.10,1320.96 770.26,1317.80 774.74,1317.80 777.90,1320.96"/>
<polygon points="777.90,1334.94 774.74,1338.10 770.26,1338.10 767.10,1334.94 767.10,1330.46 770.26,1327.30 774.74,1327.30 777.90,1330.46"/>
<polygon points="777.90,1352.14 774.74,1355.30 770.26,1355.30 767.10,1352.14 767.10,1347.66 770.26,1344.50 774.74,1344.50 777.90,1347.66"/>
<polygon points="777.90,1377.84 774.74,1381.00 770.26,1381.00 767.10,1377.84 767.10,1373.36 770.26,1370.20 774.74,1370.20 777.90,1373.36"/>
<polygon points="777.90,1574.14 774.74,1577.30 770.26,1577.30 767.10,1574.14 767.10,1569.66 770.26,1566.50 774.74,1566.50 777.90,1569.66"/>
<polygon points="826.30,1287.94 823.14,1291.10 818.66,1291.10 815.50,1287.94 815.50,1283.46 818.66,1280.30 823.14,1280.30 826.30,1283.46"/>
<polygon points="826.30,1306.74 823.14,1309.90 818.66,1309.90 815.50,1306.74 815.50,1302.26 818.66,1299.10 823.14,1299.10 826.30,1302.26"/>
<polygon points="826.30,1344.84 823.14,1348.00 818.66,1348.00 815.50,1344.84 815.50,1340.36 818.66,1337.20 823.14,1337.20 826.30,1340.36"/>
<polygon points="826.30,1371.54 823.14,1374.70 818.66,1374.70 815.50,1371.54 815.50,1367.06 818.66,1363.90 823.14,1363.90 826.30,1367.06"/>
<polygon points="826.30,1392.64 823.14,1395.80 818.66,1395.80 815.50,1392.64 815.50,1388.16 818.66,1385.00 823.14,1385.00 826.30,1388.16"/>
<polygon points="826.30,1576.44 823.14,1579.60 818.66,1579.60 815.50,1576.44 815.50,1571.96 818.66,1568.80 823.14,1568.80 826.30,1571.96"/>
<polygon points="874.70,1311.24 871.54,1314.40 867.06,1314.40 863.90,1311.24 863.90,1306.76 867.06,1303.60 871.54,1303.60 874.70,1306.76"/>
<polygon points="874.70,1368.94 871.54,1372.10 867.06,1372.10 863.90,1368.94 863.90,1364.46 867.06,1361.30 871.54,1361.30 874.70,1364.46"/>
<polygon points="874.70,1548.84 871.54,1552.00 867.06,1552.00 863.90,1548.84 863.90,1544.36 867.06,1541.20 871.54,1541.20 874.70,1544.36"/>
<polygon points="923.50,1064.44 920.34,1067.60 915.86,1067.60 912.70,1064.44 912.70,1059.96 915.86,1056.80 920.34,1056.80 923.50,1059.96"/>
<polygon points="923.50,1258.24 920.34,1261.40 915.86,1261.40 912.70,1258.24 912.70,1253.76 915.86,1250.60 920.34,1250.60 923.50,1253.76"/>
<polygon points="923.50,1272.64 920.34,1275.80 915.86,1275.80 912.70,1272.64 912.70,1268.16 915.86,1265.00 920.34,1265.00 923.50,1268.16"/>
<polygon points="923.50,1361.44 920.34,1364.60 915.86,1364.60 912.70,1361.44 912.70,1356.96 915.86,1353.80 920.34,1353.80 923.50,1356.96"/>
<polygon points="923.50,1402.14 920.34,1405.30 915.86,1405.30 912.70,1402.14 912.70,1397.66 915.86,1394.50 920.34,1394.50 923.50,1397.66"/>
<polygon points="923.50,1513.24 920.34,1516.40 915.86,1516.40 912.70,1513.24 912.70,1508.76 915.86,1505.60 920.34,1505.60 923.50,1508.76"/>
</g>
<polyline points="185.2,1362.4 235.1,1373.4 283.4,1431 331.8,1402.8 380.5,1392 430.3,1416.8 478.6,1369.9 527.4,1312.3 577.5,1265.4 625.8,1306.2 674.3,1396.8 722.7,1370.3 772.5,1362.4 820.9,1356.2 869.3,1381 918.1,1315.7" fill="none" stroke="#000" stroke-width="1.5" stroke-linejoin="round" shape-rendering="crispEdges"/>
<g fill="#000">
<polygon points="193.80,1365.96 188.76,1371.00 181.64,1371.00 176.60,1365.96 176.60,1358.84 181.64,1353.80 188.76,1353.80 193.80,1358.84"/>
<polygon points="243.70,1376.96 238.66,1382.00 231.54,1382.00 226.50,1376.96 226.50,1369.84 231.54,1364.80 238.66,1364.80 243.70,1369.84"/>
<polygon points="292.00,1434.56 286.96,1439.60 279.84,1439.60 274.80,1434.56 274.80,1427.44 279.84,1422.40 286.96,1422.40 292.00,1427.44"/>
<polygon points="340.40,1406.36 335.36,1411.40 328.24,1411.40 323.20,1406.36 323.20,1399.24 328.24,1394.20 335.36,1394.20 340.40,1399.24"/>
<polygon points="389.10,1395.56 384.06,1400.60 376.94,1400.60 371.90,1395.56 371.90,1388.44 376.94,1383.40 384.06,1383.40 389.10,1388.44"/>
<polygon points="438.90,1420.36 433.86,1425.40 426.74,1425.40 421.70,1420.36 421.70,1413.24 426.74,1408.20 433.86,1408.20 438.90,1413.24"/>
<polygon points="487.20,1373.46 482.16,1378.50 475.04,1378.50 470.00,1373.46 470.00,1366.34 475.04,1361.30 482.16,1361.30 487.20,1366.34"/>
<polygon points="536.00,1315.86 530.96,1320.90 523.84,1320.90 518.80,1315.86 518.80,1308.74 523.84,1303.70 530.96,1303.70 536.00,1308.74"/>
<polygon points="586.10,1268.96 581.06,1274.00 573.94,1274.00 568.90,1268.96 568.90,1261.84 573.94,1256.80 581.06,1256.80 586.10,1261.84"/>
<polygon points="634.40,1309.76 629.36,1314.80 622.24,1314.80 617.20,1309.76 617.20,1302.64 622.24,1297.60 629.36,1297.60 634.40,1302.64"/>
<polygon points="682.90,1400.36 677.86,1405.40 670.74,1405.40 665.70,1400.36 665.70,1393.24 670.74,1388.20 677.86,1388.20 682.90,1393.24"/>
<polygon points="731.30,1373.86 726.26,1378.90 719.14,1378.90 714.10,1373.86 714.10,1366.74 719.14,1361.70 726.26,1361.70 731.30,1366.74"/>
<polygon points="781.10,1365.96 776.06,1371.00 768.94,1371.00 763.90,1365.96 763.90,1358.84 768.94,1353.80 776.06,1353.80 781.10,1358.84"/>
<polygon points="829.50,1359.76 824.46,1364.80 817.34,1364.80 812.30,1359.76 812.30,1352.64 817.34,1347.60 824.46,1347.60 829.50,1352.64"/>
<polygon points="877.90,1384.56 872.86,1389.60 865.74,1389.60 860.70,1384.56 860.70,1377.44 865.74,1372.40 872.86,1372.40 877.90,1377.44"/>
<polygon points="926.70,1319.26 921.66,1324.30 914.54,1324.30 909.50,1319.26 909.50,1312.14 914.54,1307.10 921.66,1307.10 926.70,1312.14"/>
</g>
<rect x="156.8" y="870.2" width="790.6" height="731.3" fill="none" stroke="#000" stroke-width="2"/>
<line x1="380.3" y1="1601.5" x2="380.3" y2="1617.8" stroke="#000" stroke-width="2"/>
<text x="379.5" y="1656.9" font-size="34" text-anchor="middle">2010</text>
<line x1="624.9" y1="1601.5" x2="624.9" y2="1617.8" stroke="#000" stroke-width="2"/>
<text x="624.1" y="1656.9" font-size="34" text-anchor="middle">2015</text>
<line x1="869.5" y1="1601.5" x2="869.5" y2="1617.8" stroke="#000" stroke-width="2"/>
<text x="868.7" y="1656.9" font-size="34" text-anchor="middle">2020</text>
<line x1="140.5" y1="897.6" x2="156.8" y2="897.6" stroke="#000" stroke-width="2"/>
<text transform="translate(121.9 897.6) rotate(-90)" font-size="34" text-anchor="middle">10</text>
<line x1="140.5" y1="1126" x2="156.8" y2="1126" stroke="#000" stroke-width="2"/>
<text transform="translate(121.9 1126) rotate(-90)" font-size="34" text-anchor="middle">5</text>
<line x1="140.5" y1="1354.4" x2="156.8" y2="1354.4" stroke="#000" stroke-width="2"/>
<text transform="translate(121.9 1354.4) rotate(-90)" font-size="34" text-anchor="middle">0</text>
<line x1="140.5" y1="1582.8" x2="156.8" y2="1582.8" stroke="#000" stroke-width="2"/>
<text transform="translate(121.9 1582.8) rotate(-90)" font-size="34" text-anchor="middle">-5</text>
<text x="160.6" y="917.2" font-size="56">c<tspan dx="3.8">)</tspan></text>
<text x="550.9" y="1716.3" font-size="44.6" text-anchor="middle">Year</text>
<text transform="translate(51.2 1233.65) rotate(-90)" font-size="44.2" text-anchor="middle">Median biomass anomaly (g/m<tspan dx="-8.5" dy="-23.9" font-size="31.5">2</tspan><tspan dx="1.5" dy="23.9">)</tspan></text>
<line x1="845.2" y1="1602" x2="845.2" y2="869.2" stroke="#ff0000" stroke-width="3.1" stroke-dasharray="14 11"/>
</g>
<g id="panel-d">
<g fill="#d3d3d3">
<polygon points="1142.60,1499.04 1139.44,1502.20 1134.96,1502.20 1131.80,1499.04 1131.80,1494.56 1134.96,1491.40 1139.44,1491.40 1142.60,1494.56"/>
<polygon points="1142.60,1505.64 1139.44,1508.80 1134.96,1508.80 1131.80,1505.64 1131.80,1501.16 1134.96,1498.00 1139.44,1498.00 1142.60,1501.16"/>
<polygon points="1142.60,1533.24 1139.44,1536.40 1134.96,1536.40 1131.80,1533.24 1131.80,1528.76 1134.96,1525.60 1139.44,1525.60 1142.60,1528.76"/>
<polygon points="1142.60,1539.14 1139.44,1542.30 1134.96,1542.30 1131.80,1539.14 1131.80,1534.66 1134.96,1531.50 1139.44,1531.50 1142.60,1534.66"/>
<polygon points="1142.60,1566.64 1139.44,1569.80 1134.96,1569.80 1131.80,1566.64 1131.80,1562.16 1134.96,1559.00 1139.44,1559.00 1142.60,1562.16"/>
<polygon points="1192.60,1493.84 1189.44,1497.00 1184.96,1497.00 1181.80,1493.84 1181.80,1489.36 1184.96,1486.20 1189.44,1486.20 1192.60,1489.36"/>
<polygon points="1192.60,1502.34 1189.44,1505.50 1184.96,1505.50 1181.80,1502.34 1181.80,1497.86 1184.96,1494.70 1189.44,1494.70 1192.60,1497.86"/>
<polygon points="1192.60,1533.24 1189.44,1536.40 1184.96,1536.40 1181.80,1533.24 1181.80,1528.76 1184.96,1525.60 1189.44,1525.60 1192.60,1528.76"/>
<polygon points="1192.60,1566.04 1189.44,1569.20 1184.96,1569.20 1181.80,1566.04 1181.80,1561.56 1184.96,1558.40 1189.44,1558.40 1192.60,1561.56"/>
<polygon points="1192.60,1574.54 1189.44,1577.70 1184.96,1577.70 1181.80,1574.54 1181.80,1570.06 1184.96,1566.90 1189.44,1566.90 1192.60,1570.06"/>
<polygon points="1240.80,1499.74 1237.64,1502.90 1233.16,1502.90 1230.00,1499.74 1230.00,1495.26 1233.16,1492.10 1237.64,1492.10 1240.80,1495.26"/>
<polygon points="1240.80,1503.64 1237.64,1506.80 1233.16,1506.80 1230.00,1503.64 1230.00,1499.16 1233.16,1496.00 1237.64,1496.00 1240.80,1499.16"/>
<polygon points="1240.80,1511.54 1237.64,1514.70 1233.16,1514.70 1230.00,1511.54 1230.00,1507.06 1233.16,1503.90 1237.64,1503.90 1240.80,1507.06"/>
<polygon points="1240.80,1533.84 1237.64,1537.00 1233.16,1537.00 1230.00,1533.84 1230.00,1529.36 1233.16,1526.20 1237.64,1526.20 1240.80,1529.36"/>
<polygon points="1240.80,1566.04 1237.64,1569.20 1233.16,1569.20 1230.00,1566.04 1230.00,1561.56 1233.16,1558.40 1237.64,1558.40 1240.80,1561.56"/>
<polygon points="1240.80,1575.24 1237.64,1578.40 1233.16,1578.40 1230.00,1575.24 1230.00,1570.76 1233.16,1567.60 1237.64,1567.60 1240.80,1570.76"/>
<polygon points="1289.40,1476.04 1286.24,1479.20 1281.76,1479.20 1278.60,1476.04 1278.60,1471.56 1281.76,1468.40 1286.24,1468.40 1289.40,1471.56"/>
<polygon points="1289.40,1499.74 1286.24,1502.90 1281.76,1502.90 1278.60,1499.74 1278.60,1495.26 1281.76,1492.10 1286.24,1492.10 1289.40,1495.26"/>
<polygon points="1289.40,1506.24 1286.24,1509.40 1281.76,1509.40 1278.60,1506.24 1278.60,1501.76 1281.76,1498.60 1286.24,1498.60 1289.40,1501.76"/>
<polygon points="1289.40,1528.64 1286.24,1531.80 1281.76,1531.80 1278.60,1528.64 1278.60,1524.16 1281.76,1521.00 1286.24,1521.00 1289.40,1524.16"/>
<polygon points="1289.40,1566.64 1286.24,1569.80 1281.76,1569.80 1278.60,1566.64 1278.60,1562.16 1281.76,1559.00 1286.24,1559.00 1289.40,1562.16"/>
<polygon points="1337.70,1495.74 1334.54,1498.90 1330.06,1498.90 1326.90,1495.74 1326.90,1491.26 1330.06,1488.10 1334.54,1488.10 1337.70,1491.26"/>
<polygon points="1337.70,1554.24 1334.54,1557.40 1330.06,1557.40 1326.90,1554.24 1326.90,1549.76 1330.06,1546.60 1334.54,1546.60 1337.70,1549.76"/>
<polygon points="1337.70,1566.64 1334.54,1569.80 1330.06,1569.80 1326.90,1566.64 1326.90,1562.16 1330.06,1559.00 1334.54,1559.00 1337.70,1562.16"/>
<polygon points="1387.80,1445.04 1384.64,1448.20 1380.16,1448.20 1377.00,1445.04 1377.00,1440.56 1380.16,1437.40 1384.64,1437.40 1387.80,1440.56"/>
<polygon points="1387.80,1486.74 1384.64,1489.90 1380.16,1489.90 1377.00,1486.74 1377.00,1482.26 1380.16,1479.10 1384.64,1479.10 1387.80,1482.26"/>
<polygon points="1387.80,1495.94 1384.64,1499.10 1380.16,1499.10 1377.00,1495.94 1377.00,1491.46 1380.16,1488.30 1384.64,1488.30 1387.80,1491.46"/>
<polygon points="1387.80,1515.64 1384.64,1518.80 1380.16,1518.80 1377.00,1515.64 1377.00,1511.16 1380.16,1508.00 1384.64,1508.00 1387.80,1511.16"/>
<polygon points="1387.80,1574.34 1384.64,1577.50 1380.16,1577.50 1377.00,1574.34 1377.00,1569.86 1380.16,1566.70 1384.64,1566.70 1387.80,1569.86"/>
<polygon points="1436.40,1432.24 1433.24,1435.40 1428.76,1435.40 1425.60,1432.24 1425.60,1427.76 1428.76,1424.60 1433.24,1424.60 1436.40,1427.76"/>
<polygon points="1436.40,1458.94 1433.24,1462.10 1428.76,1462.10 1425.60,1458.94 1425.60,1454.46 1428.76,1451.30 1433.24,1451.30 1436.40,1454.46"/>
<polygon points="1436.40,1481.54 1433.24,1484.70 1428.76,1484.70 1425.60,1481.54 1425.60,1477.06 1428.76,1473.90 1433.24,1473.90 1436.40,1477.06"/>
<polygon points="1436.40,1501.24 1433.24,1504.40 1428.76,1504.40 1425.60,1501.24 1425.60,1496.76 1428.76,1493.60 1433.24,1493.60 1436.40,1496.76"/>
<polygon points="1436.40,1522.84 1433.24,1526.00 1428.76,1526.00 1425.60,1522.84 1425.60,1518.36 1428.76,1515.20 1433.24,1515.20 1436.40,1518.36"/>
<polygon points="1436.40,1566.64 1433.24,1569.80 1428.76,1569.80 1425.60,1566.64 1425.60,1562.16 1428.76,1559.00 1433.24,1559.00 1436.40,1562.16"/>
<polygon points="1484.70,1446.04 1481.54,1449.20 1477.06,1449.20 1473.90,1446.04 1473.90,1441.56 1477.06,1438.40 1481.54,1438.40 1484.70,1441.56"/>
<polygon points="1484.70,1471.44 1481.54,1474.60 1477.06,1474.60 1473.90,1471.44 1473.90,1466.96 1477.06,1463.80 1481.54,1463.80 1484.70,1466.96"/>
<polygon points="1484.70,1546.14 1481.54,1549.30 1477.06,1549.30 1473.90,1546.14 1473.90,1541.66 1477.06,1538.50 1481.54,1538.50 1484.70,1541.66"/>
<polygon points="1484.70,1574.34 1481.54,1577.50 1477.06,1577.50 1473.90,1574.34 1473.90,1569.86 1477.06,1566.70 1481.54,1566.70 1484.70,1569.86"/>
<polygon points="1534.60,1204.34 1531.44,1207.50 1526.96,1207.50 1523.80,1204.34 1523.80,1199.86 1526.96,1196.70 1531.44,1196.70 1534.60,1199.86"/>
<polygon points="1534.60,1365.04 1531.44,1368.20 1526.96,1368.20 1523.80,1365.04 1523.80,1360.56 1526.96,1357.40 1531.44,1357.40 1534.60,1360.56"/>
<polygon points="1534.60,1493.04 1531.44,1496.20 1526.96,1496.20 1523.80,1493.04 1523.80,1488.56 1526.96,1485.40 1531.44,1485.40 1534.60,1488.56"/>
<polygon points="1534.60,1532.44 1531.44,1535.60 1526.96,1535.60 1523.80,1532.44 1523.80,1527.96 1526.96,1524.80 1531.44,1524.80 1534.60,1527.96"/>
<polygon points="1583.20,1263.74 1580.04,1266.90 1575.56,1266.90 1572.40,1263.74 1572.40,1259.26 1575.56,1256.10 1580.04,1256.10 1583.20,1259.26"/>
<polygon points="1583.20,1438.84 1580.04,1442.00 1575.56,1442.00 1572.40,1438.84 1572.40,1434.36 1575.56,1431.20 1580.04,1431.20 1583.20,1434.36"/>
<polygon points="1583.20,1464.24 1580.04,1467.40 1575.56,1467.40 1572.40,1464.24 1572.40,1459.76 1575.56,1456.60 1580.04,1456.60 1583.20,1459.76"/>
<polygon points="1583.20,1510.44 1580.04,1513.60 1575.56,1513.60 1572.40,1510.44 1572.40,1505.96 1575.56,1502.80 1580.04,1502.80 1583.20,1505.96"/>
<polygon points="1631.70,1429.04 1628.54,1432.20 1624.06,1432.20 1620.90,1429.04 1620.90,1424.56 1624.06,1421.40 1628.54,1421.40 1631.70,1424.56"/>
<polygon points="1631.70,1454.24 1628.54,1457.40 1624.06,1457.40 1620.90,1454.24 1620.90,1449.76 1624.06,1446.60 1628.54,1446.60 1631.70,1449.76"/>
<polygon points="1631.70,1552.04 1628.54,1555.20 1624.06,1555.20 1620.90,1552.04 1620.90,1547.56 1624.06,1544.40 1628.54,1544.40 1631.70,1547.56"/>
<polygon points="1679.90,1420.84 1676.74,1424.00 1672.26,1424.00 1669.10,1420.84 1669.10,1416.36 1672.26,1413.20 1676.74,1413.20 1679.90,1416.36"/>
<polygon points="1679.90,1426.34 1676.74,1429.50 1672.26,1429.50 1669.10,1426.34 1669.10,1421.86 1672.26,1418.70 1676.74,1418.70 1679.90,1421.86"/>
<polygon points="1679.90,1463.34 1676.74,1466.50 1672.26,1466.50 1669.10,1463.34 1669.10,1458.86 1672.26,1455.70 1676.74,1455.70 1679.90,1458.86"/>
<polygon points="1679.90,1490.14 1676.74,1493.30 1672.26,1493.30 1669.10,1490.14 1669.10,1485.66 1672.26,1482.50 1676.74,1482.50 1679.90,1485.66"/>
<polygon points="1679.90,1542.14 1676.74,1545.30 1672.26,1545.30 1669.10,1542.14 1669.10,1537.66 1672.26,1534.50 1676.74,1534.50 1679.90,1537.66"/>
<polygon points="1730.10,1469.64 1726.94,1472.80 1722.46,1472.80 1719.30,1469.64 1719.30,1465.16 1722.46,1462.00 1726.94,1462.00 1730.10,1465.16"/>
<polygon points="1730.10,1501.94 1726.94,1505.10 1722.46,1505.10 1719.30,1501.94 1719.30,1497.46 1722.46,1494.30 1726.94,1494.30 1730.10,1497.46"/>
<polygon points="1730.10,1529.54 1726.94,1532.70 1722.46,1532.70 1719.30,1529.54 1719.30,1525.06 1722.46,1521.90 1726.94,1521.90 1730.10,1525.06"/>
<polygon points="1778.30,897.94 1775.14,901.10 1770.66,901.10 1767.50,897.94 1767.50,893.46 1770.66,890.30 1775.14,890.30 1778.30,893.46"/>
<polygon points="1778.30,1255.74 1775.14,1258.90 1770.66,1258.90 1767.50,1255.74 1767.50,1251.26 1770.66,1248.10 1775.14,1248.10 1778.30,1251.26"/>
<polygon points="1778.30,1421.54 1775.14,1424.70 1770.66,1424.70 1767.50,1421.54 1767.50,1417.06 1770.66,1413.90 1775.14,1413.90 1778.30,1417.06"/>
<polygon points="1778.30,1468.14 1775.14,1471.30 1770.66,1471.30 1767.50,1468.14 1767.50,1463.66 1770.66,1460.50 1775.14,1460.50 1778.30,1463.66"/>
<polygon points="1778.30,1501.94 1775.14,1505.10 1770.66,1505.10 1767.50,1501.94 1767.50,1497.46 1770.66,1494.30 1775.14,1494.30 1778.30,1497.46"/>
<polygon points="1778.30,1506.74 1775.14,1509.90 1770.66,1509.90 1767.50,1506.74 1767.50,1502.26 1770.66,1499.10 1775.14,1499.10 1778.30,1502.26"/>
<polygon points="1827.00,1429.04 1823.84,1432.20 1819.36,1432.20 1816.20,1429.04 1816.20,1424.56 1819.36,1421.40 1823.84,1421.40 1827.00,1424.56"/>
<polygon points="1827.00,1483.24 1823.84,1486.40 1819.36,1486.40 1816.20,1483.24 1816.20,1478.76 1819.36,1475.60 1823.84,1475.60 1827.00,1478.76"/>
<polygon points="1827.00,1525.94 1823.84,1529.10 1819.36,1529.10 1816.20,1525.94 1816.20,1521.46 1819.36,1518.30 1823.84,1518.30 1827.00,1521.46"/>
<polygon points="1875.50,1199.64 1872.34,1202.80 1867.86,1202.80 1864.70,1199.64 1864.70,1195.16 1867.86,1192.00 1872.34,1192.00 1875.50,1195.16"/>
<polygon points="1875.50,1479.24 1872.34,1482.40 1867.86,1482.40 1864.70,1479.24 1864.70,1474.76 1867.86,1471.60 1872.34,1471.60 1875.50,1474.76"/>
<polygon points="1875.50,1502.74 1872.34,1505.90 1867.86,1505.90 1864.70,1502.74 1864.70,1498.26 1867.86,1495.10 1872.34,1495.10 1875.50,1498.26"/>
<polygon points="1875.50,1520.84 1872.34,1524.00 1867.86,1524.00 1864.70,1520.84 1864.70,1516.36 1867.86,1513.20 1872.34,1513.20 1875.50,1516.36"/>
</g>
<polyline points="1137.2,1517.4 1187.2,1516.1 1235.4,1520.8 1284,1514.5 1332.3,1503.4 1382.4,1503.2 1431,1489.4 1479.3,1498.7 1529.2,1459.6 1577.8,1447.1 1626.3,1481.6 1674.5,1474.1 1724.7,1513.1 1772.9,1442.5 1821.6,1472.2 1870.1,1483.2" fill="none" stroke="#000" stroke-width="1.5" stroke-linejoin="round" shape-rendering="crispEdges"/>
<g fill="#000">
<polygon points="1145.80,1520.96 1140.76,1526.00 1133.64,1526.00 1128.60,1520.96 1128.60,1513.84 1133.64,1508.80 1140.76,1508.80 1145.80,1513.84"/>
<polygon points="1195.80,1519.66 1190.76,1524.70 1183.64,1524.70 1178.60,1519.66 1178.60,1512.54 1183.64,1507.50 1190.76,1507.50 1195.80,1512.54"/>
<polygon points="1244.00,1524.36 1238.96,1529.40 1231.84,1529.40 1226.80,1524.36 1226.80,1517.24 1231.84,1512.20 1238.96,1512.20 1244.00,1517.24"/>
<polygon points="1292.60,1518.06 1287.56,1523.10 1280.44,1523.10 1275.40,1518.06 1275.40,1510.94 1280.44,1505.90 1287.56,1505.90 1292.60,1510.94"/>
<polygon points="1340.90,1506.96 1335.86,1512.00 1328.74,1512.00 1323.70,1506.96 1323.70,1499.84 1328.74,1494.80 1335.86,1494.80 1340.90,1499.84"/>
<polygon points="1391.00,1506.76 1385.96,1511.80 1378.84,1511.80 1373.80,1506.76 1373.80,1499.64 1378.84,1494.60 1385.96,1494.60 1391.00,1499.64"/>
<polygon points="1439.60,1492.96 1434.56,1498.00 1427.44,1498.00 1422.40,1492.96 1422.40,1485.84 1427.44,1480.80 1434.56,1480.80 1439.60,1485.84"/>
<polygon points="1487.90,1502.26 1482.86,1507.30 1475.74,1507.30 1470.70,1502.26 1470.70,1495.14 1475.74,1490.10 1482.86,1490.10 1487.90,1495.14"/>
<polygon points="1537.80,1463.16 1532.76,1468.20 1525.64,1468.20 1520.60,1463.16 1520.60,1456.04 1525.64,1451.00 1532.76,1451.00 1537.80,1456.04"/>
<polygon points="1586.40,1450.66 1581.36,1455.70 1574.24,1455.70 1569.20,1450.66 1569.20,1443.54 1574.24,1438.50 1581.36,1438.50 1586.40,1443.54"/>
<polygon points="1634.90,1485.16 1629.86,1490.20 1622.74,1490.20 1617.70,1485.16 1617.70,1478.04 1622.74,1473.00 1629.86,1473.00 1634.90,1478.04"/>
<polygon points="1683.10,1477.66 1678.06,1482.70 1670.94,1482.70 1665.90,1477.66 1665.90,1470.54 1670.94,1465.50 1678.06,1465.50 1683.10,1470.54"/>
<polygon points="1733.30,1516.66 1728.26,1521.70 1721.14,1521.70 1716.10,1516.66 1716.10,1509.54 1721.14,1504.50 1728.26,1504.50 1733.30,1509.54"/>
<polygon points="1781.50,1446.06 1776.46,1451.10 1769.34,1451.10 1764.30,1446.06 1764.30,1438.94 1769.34,1433.90 1776.46,1433.90 1781.50,1438.94"/>
<polygon points="1830.20,1475.76 1825.16,1480.80 1818.04,1480.80 1813.00,1475.76 1813.00,1468.64 1818.04,1463.60 1825.16,1463.60 1830.20,1468.64"/>
<polygon points="1878.70,1486.76 1873.66,1491.80 1866.54,1491.80 1861.50,1486.76 1861.50,1479.64 1866.54,1474.60 1873.66,1474.60 1878.70,1479.64"/>
</g>
<rect x="1109" y="867.7" width="790.6" height="731.1" fill="none" stroke="#000" stroke-width="2"/>
<line x1="1332.5" y1="1598.8" x2="1332.5" y2="1615.1" stroke="#000" stroke-width="2"/>
<text x="1331.7" y="1654" font-size="34" text-anchor="middle">2010</text>
<line x1="1577.05" y1="1598.8" x2="1577.05" y2="1615.1" stroke="#000" stroke-width="2"/>
<text x="1576.25" y="1654" font-size="34" text-anchor="middle">2015</text>
<line x1="1821.6" y1="1598.8" x2="1821.6" y2="1615.1" stroke="#000" stroke-width="2"/>
<text x="1820.8" y="1654" font-size="34" text-anchor="middle">2020</text>
<line x1="1092.7" y1="914.5" x2="1109" y2="914.5" stroke="#000" stroke-width="2"/>
<text transform="translate(1073.7 914.5) rotate(-90)" font-size="34" text-anchor="middle">2.0</text>
<line x1="1092.7" y1="1055.9" x2="1109" y2="1055.9" stroke="#000" stroke-width="2"/>
<text transform="translate(1073.7 1055.9) rotate(-90)" font-size="34" text-anchor="middle">1.5</text>
<line x1="1092.7" y1="1197.3" x2="1109" y2="1197.3" stroke="#000" stroke-width="2"/>
<text transform="translate(1073.7 1197.3) rotate(-90)" font-size="34" text-anchor="middle">1.0</text>
<line x1="1092.7" y1="1338.6" x2="1109" y2="1338.6" stroke="#000" stroke-width="2"/>
<text transform="translate(1073.7 1338.6) rotate(-90)" font-size="34" text-anchor="middle">0.5</text>
<line x1="1092.7" y1="1480" x2="1109" y2="1480" stroke="#000" stroke-width="2"/>
<text transform="translate(1073.7 1480) rotate(-90)" font-size="34" text-anchor="middle">0.0</text>
<text x="1111.3" y="913.4" font-size="56">d<tspan dx="3.8">)</tspan></text>
<text x="1502.1" y="1713.9" font-size="44.6" text-anchor="middle">Year</text>
<text transform="translate(1003.5 1231.25) rotate(-90)" font-size="44.2" text-anchor="middle">Median biomass anomaly (g/m<tspan dx="-8.5" dy="-23.9" font-size="31.5">2</tspan><tspan dx="1.5" dy="23.9">)</tspan></text>
<line x1="1797.3" y1="868.6" x2="1797.3" y2="1599.6" stroke="#ff0000" stroke-width="3.1" stroke-dasharray="14 11"/>
</g>
<text x="575.6" y="912.8" font-size="26" text-anchor="middle">X</text>
<text x="592" y="909.8" font-size="26" letter-spacing="-0.75">(2014, 41)</text>
</svg>
</body></html>
